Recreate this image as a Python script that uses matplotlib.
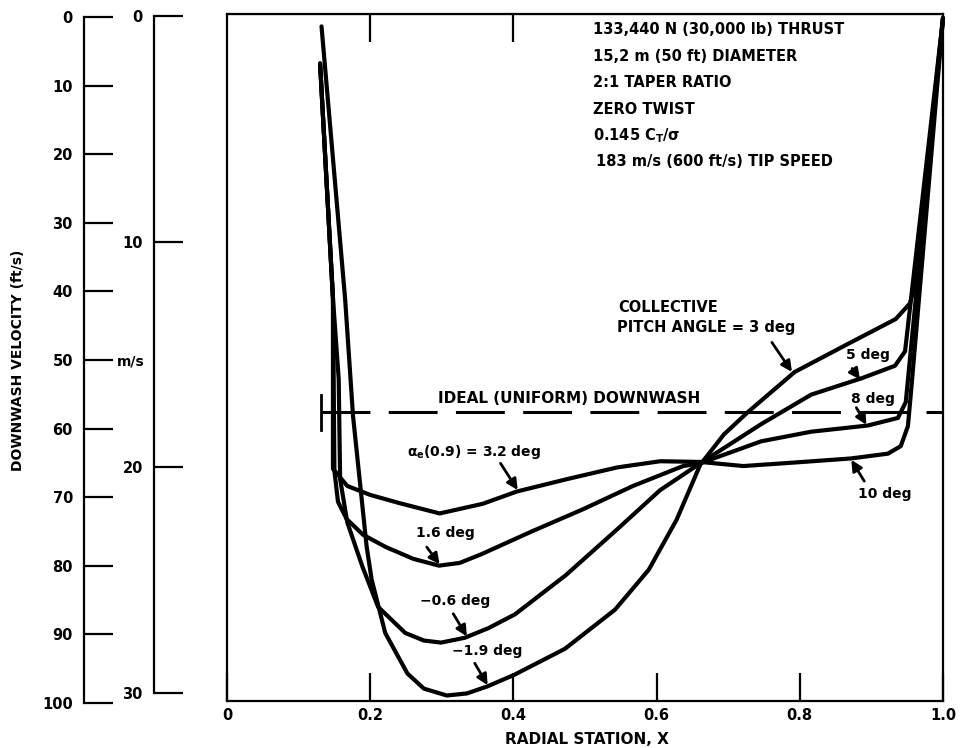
import matplotlib
matplotlib.use("Agg")
import matplotlib.pyplot as plt

plt.rcParams['font.family'] = ['DejaVu Sans']
plt.rcParams['font.weight'] = 'bold'
plt.rcParams['mathtext.fontset'] = 'custom'
plt.rcParams['mathtext.rm'] = 'DejaVu Sans:bold'
plt.rcParams['mathtext.it'] = 'DejaVu Sans:bold'
plt.rcParams['mathtext.bf'] = 'DejaVu Sans:bold'

###Spanwise downwash, x = radial station, v = downwash (ft/s)###
# alpha_e(0.9) = -1.9 deg  /  collective 3 deg
x_a = [0.132, 0.165, 0.176, 0.195, 0.202, 0.221, 0.252, 0.275, 0.307, 0.335, 0.363, 0.401,
       0.472, 0.542, 0.589, 0.628, 0.661, 0.694, 0.728, 0.793, 0.864, 0.934, 0.954, 0.961, 1.0]
v_a = [1.8, 41.5, 58.5, 77.5, 82.3, 90.1, 96.0, 98.2, 99.2, 98.9, 97.9, 96.2,
       92.4, 86.7, 80.9, 73.6, 65.6, 61.2, 57.9, 52.1, 48.2, 44.4, 42.1, 39.2, 0.6]

# alpha_e(0.9) = -0.6 deg  /  collective 5 deg
x_b = [0.130, 0.148, 0.156, 0.158, 0.168, 0.189, 0.211, 0.249, 0.275, 0.299, 0.332, 0.365,
       0.402, 0.473, 0.544, 0.605, 0.661, 0.746, 0.816, 0.887, 0.933, 0.947, 1.0]
v_b = [7.2, 41.4, 53.1, 67.7, 74.0, 80.4, 86.3, 90.1, 91.2, 91.5, 90.8, 89.4,
       87.4, 81.7, 75.1, 69.3, 65.4, 59.7, 55.4, 53.0, 51.2, 49.1, 0.6]

# alpha_e(0.9) = 1.6 deg  /  collective 8 deg
x_c = [0.130, 0.148, 0.149, 0.150, 0.155, 0.167, 0.190, 0.222, 0.260, 0.296, 0.325, 0.356,
       0.426, 0.497, 0.567, 0.637, 0.661, 0.746, 0.816, 0.895, 0.937, 0.948, 1.0]
v_c = [7.2, 41.4, 53.1, 66.5, 71.0, 73.5, 75.8, 77.6, 79.3, 80.3, 79.9, 78.6,
       75.3, 72.1, 68.7, 65.8, 65.4, 62.2, 60.8, 59.9, 58.8, 56.5, 0.6]

# alpha_e(0.9) = 3.2 deg  /  collective 10 deg
x_d = [0.130, 0.148, 0.148, 0.168, 0.200, 0.241, 0.297, 0.357, 0.405, 0.475, 0.545, 0.605,
       0.661, 0.721, 0.791, 0.871, 0.923, 0.941, 0.951, 0.956, 1.0]
v_d = [7.2, 41.4, 66.2, 68.7, 70.0, 71.2, 72.7, 71.3, 69.5, 67.7, 66.0, 65.1,
       65.2, 65.8, 65.3, 64.7, 64.0, 62.9, 60.0, 54.2, 0.6]

v_ideal = 58.0          # ideal (uniform) downwash, ft/s
x_ideal = [0.131, 1.0]

ft_ticks = [0, 10, 20, 30, 40, 50, 60, 70, 80, 90, 100]
ms_ticks = [0, 10, 20, 30]
x_ticks = [0, 0.2, 0.4, 0.6, 0.8, 1.0]
x_ticklabels = ['0', '0.2', '0.4', '0.6', '0.8', '1.0']
top_ticks = [0.2, 0.4]

info_lines = ['133,440 N (30,000 lb) THRUST',
              '15,2 m (50 ft) DIAMETER',
              '2:1 TAPER RATIO',
              'ZERO TWIST',
              r'0.145 $C_T/\sigma$',
              '183 m/s (600 ft/s) TIP SPEED']

W, H = 964, 748
fig = plt.figure(figsize=(W/100, H/100), dpi=100)

def fx(px):
	return px/W

def fy(py):
	return 1 - py/H

###main plot###
ax = fig.add_axes([fx(227), fy(701), fx(943)-fx(227), fy(14)-fy(701)])
ax.set_xlim(0, 1)
ax.set_ylim(100, 0)
for s in ax.spines.values():
	s.set_linewidth(1.6)
ax.set_yticks([])
ax.set_xticks(x_ticks)
ax.set_xticklabels(x_ticklabels)
ax.tick_params(axis='x', direction='in', length=20, width=1.6, labelsize=10.5, pad=5)
top = ax.secondary_xaxis('top')
top.set_xticks(top_ticks)
top.tick_params(direction='in', length=20, width=1.6, labeltop=False)

curve_kw = dict(color='k', lw=3.0, solid_joinstyle='round', solid_capstyle='round', clip_on=False)
for xs, vs in [(x_a, v_a), (x_b, v_b), (x_c, v_c), (x_d, v_d)]:
	ax.plot(xs, vs, **curve_kw)

ax.plot(x_ideal, [v_ideal, v_ideal], color='k', lw=2.2, ls=(0, (16, 6)), clip_on=False)
ax.plot([x_ideal[0], x_ideal[0]], [v_ideal-2.6, v_ideal+2.6], color='k', lw=2.0)
ax.text(0.478, v_ideal-2.0, 'IDEAL (UNIFORM) DOWNWASH', ha='center', va='center', fontsize=11)

###curve labels###
arrow_kw = dict(arrowstyle='-|>', color='k', lw=2.0, mutation_scale=16, shrinkA=0, shrinkB=0)

def label(txt, tx, ty, start, tip, ha='center', size=10):
	ax.text(tx, ty, txt, ha=ha, va='center', fontsize=size)
	ax.annotate('', xy=tip, xytext=start, arrowprops=arrow_kw)

label(r'$\alpha_e$(0.9) = 3.2 deg', 0.252, 63.7, (0.382, 65.4), (0.406, 69.3), ha='left')
label('1.6 deg', 0.305, 75.6, (0.279, 77.6), (0.297, 80.1))
label('\u22120.6 deg', 0.318, 85.4, (0.316, 87.3), (0.335, 90.6))
label('\u22121.9 deg', 0.364, 92.7, (0.346, 94.5), (0.364, 97.7))

ax.text(0.546, 42.7, 'COLLECTIVE', ha='left', va='center', fontsize=10.5)
label('PITCH ANGLE = 3 deg', 0.545, 45.6, (0.761, 47.8), (0.789, 52.1), ha='left', size=10.5)
label('5 deg', 0.895, 49.7, (0.873, 51.6), (0.884, 53.2))
label('8 deg', 0.902, 56.0, (0.879, 57.3), (0.893, 59.8))
label('10 deg', 0.918, 69.9, (0.890, 68.0), (0.872, 64.9))

###rotor data block###
for i, line in enumerate(info_lines):
	fig.text(fx(593 if i < 5 else 596), fy(30 + 26.4*i), line, ha='left', va='center', fontsize=10.5)

###ft/s scale###
ax_ft = fig.add_axes([fx(84), fy(703), 0.0005, fy(17)-fy(703)])
ax_ft.set_ylim(100, 0)
ax_ft.set_xticks([])
ax_ft.patch.set_visible(False)
for s in ['top', 'right', 'bottom']:
	ax_ft.spines[s].set_visible(False)
ax_ft.spines['left'].set_linewidth(1.6)
ax_ft.set_yticks(ft_ticks)
ax_ft.tick_params(axis='y', direction='in', length=21, width=1.6, labelsize=10.5, pad=8)

###m/s scale###
ax_ms = fig.add_axes([fx(154), fy(704), 0.0005, fy(16)-fy(704)])
ax_ms.set_ylim(100*0.3048, 0)
ax_ms.set_xticks([])
ax_ms.patch.set_visible(False)
for s in ['top', 'right', 'bottom']:
	ax_ms.spines[s].set_visible(False)
ax_ms.spines['left'].set_linewidth(1.6)
ax_ms.spines['left'].set_bounds(0, 30)
ax_ms.set_yticks(ms_ticks)
ax_ms.tick_params(axis='y', direction='in', length=21, width=1.6, labelsize=10.5, pad=8)
fig.text(fx(117), fy(362), 'm/s', ha='left', va='center', fontsize=10)

fig.text(fx(18), fy(360), 'DOWNWASH VELOCITY (ft/s)', rotation=90, ha='center', va='center', fontsize=10)
fig.text(fx(587), fy(739), 'RADIAL STATION, X', ha='center', va='center', fontsize=11)

fig.savefig('out.png', dpi=100, facecolor='white')
